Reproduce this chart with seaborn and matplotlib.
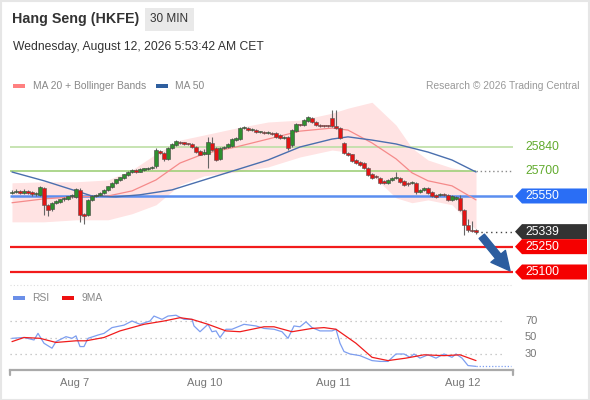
import numpy as np
import pandas as pd
import seaborn as sns
import matplotlib
matplotlib.use("Agg")
from matplotlib import pyplot as plt
from matplotlib import transforms
from matplotlib.patches import Polygon, Rectangle, FancyArrowPatch

sns.set_style("white")
plt.rcParams["font.family"] = ["Liberation Sans", "DejaVu Sans"]

# candle data (30 min bars, left to right)
opens = [25568, 25574, 25578, 25570, 25576, 25572, 25560, 25555, 25600, 25495,
         25470, 25510, 25516, 25530, 25532, 25548, 25545, 25585, 25442, 25440,
         25525, 25550, 25554, 25570, 25586, 25606, 25628, 25645, 25658, 25676,
         25694, 25702, 25694, 25706, 25710, 25716, 25725, 25815, 25805, 25770,
         25834, 25852, 25872, 25864, 25860, 25858, 25840, 25818, 25800, 25800,
         25866, 25835, 25770, 25834, 25838, 25846, 25884, 25885, 25950, 25952,
         25940, 25940, 25928, 25928, 25924, 25924, 25922, 25910, 25895, 25899,
         25850, 25935, 25970, 25970, 25992, 26012, 25988, 25972, 25966, 25964,
         26012, 25964, 25952, 25862, 25806, 25796, 25762, 25750, 25744, 25716,
         25680, 25670, 25656, 25638, 25628, 25642, 25656, 25658, 25638, 25628,
         25626, 25628, 25574, 25586, 25598, 25574, 25556, 25556, 25560, 25556,
         25526, 25534, 25540, 25468, 25380, 25350, 25344]
highs = [25585, 25590, 25588, 25590, 25585, 25580, 25575, 25612, 25605, 25500,
         25515, 25525, 25535, 25542, 25552, 25560, 25596, 25600, 25450, 25530,
         25556, 25562, 25574, 25592, 25612, 25632, 25652, 25665, 25682, 25698,
         25710, 25708, 25714, 25718, 25722, 25728, 25835, 25822, 25810, 25840,
         25862, 25880, 25878, 25870, 25866, 25864, 25846, 25822, 25830, 25900,
         25900, 25840, 25840, 25848, 25864, 25892, 25900, 25958, 25964, 25958,
         25950, 25946, 25936, 25934, 25932, 25930, 25928, 25916, 25904, 25904,
         25944, 25980, 25978, 26006, 26022, 26018, 25994, 25978, 25972, 25970,
         26060, 26060, 25958, 25868, 25812, 25800, 25768, 25756, 25750, 25720,
         25686, 25676, 25662, 25644, 25650, 25662, 25694, 25664, 25644, 25634,
         25636, 25634, 25590, 25606, 25604, 25580, 25562, 25566, 25566, 25562,
         25556, 25550, 25556, 25474, 25412, 25400, 25352]
lows = [25560, 25565, 25560, 25562, 25560, 25552, 25550, 25548, 25440, 25430,
        25462, 25500, 25508, 25522, 25526, 25540, 25540, 25395, 25385, 25432,
        25518, 25542, 25548, 25562, 25580, 25600, 25622, 25640, 25652, 25670,
        25688, 25686, 25690, 25700, 25704, 25710, 25718, 25798, 25760, 25765,
        25828, 25846, 25858, 25852, 25850, 25836, 25806, 25790, 25794, 25715,
        25815, 25758, 25764, 25828, 25832, 25840, 25878, 25880, 25944, 25932,
        25934, 25922, 25920, 25918, 25916, 25912, 25894, 25888, 25886, 25822,
        25842, 25928, 25962, 25964, 25988, 25982, 25966, 25960, 25958, 25956,
        25960, 25946, 25886, 25798, 25788, 25754, 25740, 25730, 25710, 25670,
        25652, 25656, 25622, 25620, 25622, 25638, 25650, 25628, 25610, 25612,
        25620, 25560, 25568, 25580, 25564, 25546, 25540, 25550, 25548, 25522,
        25520, 25528, 25460, 25320, 25338, 25334, 25322]
closes = [25574, 25580, 25570, 25576, 25570, 25560, 25565, 25605, 25495, 25468,
          25510, 25518, 25530, 25534, 25548, 25552, 25590, 25440, 25432, 25525,
          25552, 25556, 25570, 25588, 25608, 25628, 25648, 25660, 25678, 25694,
          25702, 25692, 25708, 25712, 25716, 25722, 25820, 25805, 25768, 25834,
          25856, 25874, 25864, 25860, 25858, 25842, 25812, 25795, 25808, 25870,
          25822, 25765, 25834, 25840, 25858, 25885, 25892, 25950, 25954, 25938,
          25944, 25928, 25930, 25924, 25926, 25918, 25900, 25893, 25898, 25835,
          25938, 25974, 25968, 26000, 26016, 25988, 25972, 25966, 25964, 25962,
          25966, 25952, 25892, 25806, 25794, 25760, 25746, 25736, 25716, 25676,
          25658, 25664, 25628, 25628, 25645, 25656, 25660, 25634, 25616, 25620,
          25630, 25574, 25584, 25600, 25570, 25552, 25546, 25560, 25554, 25528,
          25550, 25544, 25468, 25378, 25346, 25342, 25339]

# indicators, read at sample bars
ma_idx = [0, 8, 16, 24, 30, 36, 42, 48, 56, 64, 72, 80, 84, 90, 96, 100, 104, 110, 116]
ma20 = [25510, 25533, 25545, 25550, 25580, 25645, 25745, 25800, 25840, 25887,
        25934, 25952, 25940, 25864, 25770, 25687, 25640, 25610, 25527]
bb_upper = [25628, 25634, 25634, 25645, 25704, 25799, 25881, 25911, 25952, 25988,
            25999, 26040, 26070, 26105, 25970, 25834, 25763, 25716, 25692]
bb_lower = [25397, 25397, 25409, 25409, 25445, 25498, 25616, 25669, 25692, 25722,
            25781, 25822, 25810, 25675, 25539, 25510, 25527, 25498, 25350]
ma50_idx = [0, 8, 16, 20, 26, 32, 40, 48, 56, 64, 72, 80, 84, 90, 96, 104, 110, 116]
ma50 = [25692, 25640, 25580, 25550, 25545, 25557, 25586, 25645, 25704, 25763,
        25840, 25887, 25900, 25881, 25858, 25810, 25763, 25692]

rsi_idx = [0, 3, 5.5, 6.5, 8, 10, 11, 13.5, 15, 16, 17, 18, 19, 21.5, 23, 25, 28, 30,
           32, 34.5, 35.5, 37.5, 39, 41, 43, 45, 45.5, 47, 49, 50, 51, 52, 53.5, 55,
           58, 61, 63, 65.5, 67.5, 69, 70.5, 72, 73.5, 75, 77, 80, 81, 82, 83, 84.5,
           87, 90, 92, 94, 96, 98, 99.5, 100.5, 102, 104, 106, 108, 110, 111, 112.5,
           114, 116]
rsi = [49, 50, 47, 55, 43, 37, 45, 51, 49, 52, 39, 39, 49, 53, 55, 62, 65, 70,
       66, 70, 76, 72, 76, 77, 72, 72, 64, 57, 66, 57, 58, 50, 60, 60,
       66, 64, 61, 60, 57, 49, 64, 63, 69, 62, 58, 58, 60, 43, 33, 30,
       28, 22, 21, 21, 30, 30, 26, 30, 25, 29, 25, 30, 26, 30, 25,
       16, 15]
rsi_ma_idx = [0, 3, 7, 11, 16, 18.5, 23, 27, 33, 38, 42, 45, 49, 53.5, 57, 63, 65.5,
              70, 75, 78, 81, 86, 90, 94, 98.5, 103, 108, 112, 116]
rsi_ma = [45, 50, 49, 44, 46, 46, 50, 58, 66, 70, 74, 72, 66, 58, 57, 63, 63,
          57, 61, 62, 60, 43, 26, 22, 25, 29, 28, 29, 22]

day_ticks = [15.75, 48.25, 80.25, 112.75]
day_labels = ["Aug 7", "Aug 10", "Aug 11", "Aug 12"]
last_price = 25339
level_green = [25840, 25700]
level_blue = 25550
level_red = [25250, 25100]
target = 25100

W, H = 590, 400
fig = plt.figure(figsize=(W / 100, H / 100), dpi=100)


def box(x0, y0, x1, y1):
    return [x0 / W, 1 - y1 / H, (x1 - x0) / W, (y1 - y0) / H]


fig.patches.append(Rectangle((0.001, 0.001), 0.997, 0.997, transform=fig.transFigure,
                             fill=False, edgecolor="#e6e6e6", lw=1.5))

# header
fig.text(12 / W, 1 - 19 / H, "Hang Seng (HKFE)", fontsize=10.3, fontweight="bold",
         color="#333333", va="center")
fig.patches.append(Rectangle((145 / W, 1 - 31 / H), 49 / W, 23 / H, transform=fig.transFigure,
                             facecolor="#e9e9e9", edgecolor="none"))
fig.text(169.5 / W, 1 - 19.5 / H, "30 MIN", fontsize=8.5, color="#333333", ha="center", va="center")
fig.text(13 / W, 1 - 47 / H, "Wednesday, August 12, 2026 5:53:42 AM CET", fontsize=8.7,
         color="#333333", va="center")

# legend row
fig.patches.append(Rectangle((13 / W, 1 - 88 / H), 12 / W, 4 / H, transform=fig.transFigure,
                             facecolor="#ff8080", edgecolor="none"))
fig.text(33 / W, 1 - 86 / H, "MA 20 + Bollinger Bands", fontsize=7.4, color="#888888", va="center")
fig.patches.append(Rectangle((156 / W, 1 - 88 / H), 12 / W, 4 / H, transform=fig.transFigure,
                             facecolor="#2f5f9f", edgecolor="none"))
fig.text(175 / W, 1 - 86 / H, "MA 50", fontsize=7.4, color="#888888", va="center")
fig.text(580 / W, 1 - 86 / H, "Research \u00a9 2026 Trading Central", fontsize=7.4,
         color="#999999", va="center", ha="right")

# price panel
ax = fig.add_axes(box(10, 97, 513, 285))
xmin, xmax = -0.5, 125.25
ax.set_xlim(xmin, xmax)
ax.set_ylim(25023, 26136)
ax.axis("off")

idx = np.arange(len(closes))
ax.fill_between(ma_idx, bb_lower, bb_upper, color="#ffdede", alpha=0.85, lw=0, zorder=1)
sns.lineplot(x=ma_idx, y=ma20, ax=ax, color="#f58a8a", linewidth=0.9, zorder=3)
sns.lineplot(x=ma50_idx, y=ma50, ax=ax, color="#4a6fae", linewidth=1.0, zorder=3)

ax.hlines(level_green[0], xmin, xmax, color="#bddfa5", lw=1.2, zorder=2)
ax.hlines(level_green[1], xmin, ma50_idx[-1], color="#9fd07a", lw=1.2, zorder=2)
ax.hlines(level_green[1], ma50_idx[-1], xmax, color="#8a8a8a", lw=1.0, ls=(0, (1, 2)), zorder=2)
ax.hlines(level_blue, xmin, xmax, color="#5b8ef0", lw=1.8, zorder=2)
for lv in level_red:
    ax.hlines(lv, xmin, xmax, color="#f21b1b", lw=1.6, zorder=2)
ax.hlines(last_price, idx[-1], xmax, color="#444444", lw=1.0, ls=(0, (1, 2.5)), zorder=2)
ax.hlines(25023, xmin, xmax, color="#dddddd", lw=0.8, ls=(0, (1, 2)), zorder=1, clip_on=False)

# candles
o = np.array(opens)
c = np.array(closes)
up = c >= o
ax.vlines(idx, lows, highs, color="#666666", lw=0.8, zorder=4)
body_low = np.minimum(o, c)
body_h = np.maximum(np.abs(c - o), 7)
ax.bar(idx[up], body_h[up], bottom=body_low[up], width=0.8, color="#2f8f2f",
       edgecolor="#444444", linewidth=0.4, zorder=5)
ax.bar(idx[~up], body_h[~up], bottom=body_low[~up], width=0.8, color="#e31414",
       edgecolor="#555555", linewidth=0.4, zorder=5)

# projection arrow
arrow = FancyArrowPatch((idx[-1] + 1.0, last_price - 15), (xmax - 0.3, target - 6),
                        arrowstyle="simple,head_width=1.5,head_length=1.5,tail_width=0.55",
                        mutation_scale=9, color="#2c5d9f", zorder=6, clip_on=False)
ax.add_patch(arrow)

# right-hand level labels
tr = transforms.blended_transform_factory(fig.transFigure, ax.transData)
half = 7.5 * 5.92


def tag(price, text, face):
    pts = [(515 / W, price), (522 / W, price + half), (587 / W, price + half),
           (587 / W, price - half), (522 / W, price - half)]
    fig.patches.append(Polygon(pts, closed=True, transform=tr, facecolor=face, edgecolor="none"))
    fig.text(525 / W, price, text, transform=tr, fontsize=8.8, color="white", va="center")


for lv in level_green:
    fig.text(525 / W, lv, str(lv), transform=tr, fontsize=8.8, color="#62ab2e", va="center")
tag(level_blue, str(level_blue), "#2a6ef5")
tag(last_price, str(last_price), "#333333")
for lv in level_red:
    tag(lv, str(lv), "#f50000")

# RSI legend
fig.patches.append(Rectangle((13 / W, 1 - 300 / H), 12 / W, 4 / H, transform=fig.transFigure,
                             facecolor="#6b8fe8", edgecolor="none"))
fig.text(32 / W, 1 - 298 / H, "RSI", fontsize=7.4, color="#888888", va="center")
fig.patches.append(Rectangle((62 / W, 1 - 300 / H), 12 / W, 4 / H, transform=fig.transFigure,
                             facecolor="#ee1111", edgecolor="none"))
fig.text(81 / W, 1 - 298 / H, "9MA", fontsize=7.4, color="#888888", va="center")

# RSI panel
ax2 = fig.add_axes(box(10, 305, 513, 370))
ax2.set_xlim(xmin, xmax)
ax2.set_ylim(10.6, 89.4)
for lv in [70, 50, 30]:
    ax2.hlines(lv, xmin, xmax - 2, color="#bbbbbb", lw=0.9, ls=(0, (1, 3)))
sns.lineplot(x=rsi_idx, y=rsi, ax=ax2, color="#7d9ef0", linewidth=0.9)
sns.lineplot(x=rsi_ma_idx, y=rsi_ma, ax=ax2, color="#f01c1c", linewidth=0.9)
ax2.hlines(rsi[-1], rsi_idx[-1], xmax - 0.5, color="#7d9ef0", lw=0.9, ls=(0, (1, 1.5)))

tr2 = transforms.blended_transform_factory(fig.transFigure, ax2.transData)
for lv in [70, 50, 30]:
    fig.text(525 / W, lv, str(lv), transform=tr2, fontsize=8, color="#777777", va="center")

for side in ["top", "left", "right"]:
    ax2.spines[side].set_visible(False)
ax2.spines["bottom"].set_color("#aaaaaa")
ax2.spines["bottom"].set_linewidth(1.6)
ax2.set_yticks([])
ax2.set_xticks(day_ticks)
ax2.set_xticklabels(day_labels)
ax2.tick_params(axis="x", length=0, pad=6, labelsize=8, labelcolor="#777777")
for xa in [0, 1]:
    ax2.plot([xa, xa], [0, -0.07], transform=ax2.transAxes, color="#aaaaaa", lw=1.6,
             clip_on=False)

fig.savefig("out.png", dpi=100)
